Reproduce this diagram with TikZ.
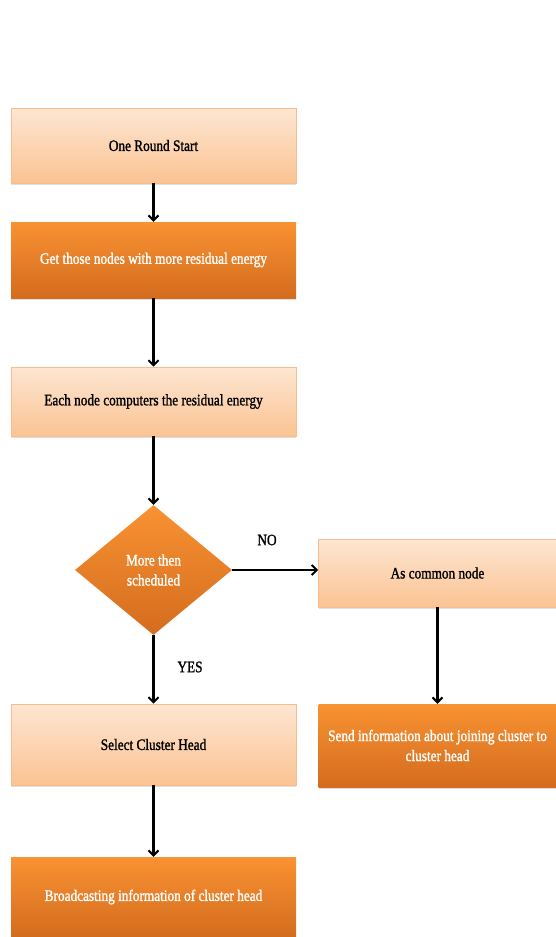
\documentclass[tikz,border=0pt]{standalone}
\usepackage{fontspec}
\setmainfont{Liberation Serif}[FakeStretch=0.83,FakeBold=1.3]
\usetikzlibrary{arrows.meta,shapes.geometric,shadows}
\definecolor{lighttop}{HTML}{FDE6D2}
\definecolor{lightbot}{HTML}{FBC393}
\definecolor{lightedge}{HTML}{F9BC8C}
\definecolor{darktop}{HTML}{F89232}
\definecolor{darkbot}{HTML}{D46C1E}
\tikzset{
  lightbox/.style={rectangle, draw=lightedge, line width=0.8pt, top color=lighttop, bottom color=lightbot,
    minimum width=285pt, inner sep=2pt, align=center, font=\fontsize{16}{20}\selectfont,
    drop shadow={shadow xshift=0pt, shadow yshift=-1.5pt, opacity=0.25}},
  darkbox/.style={rectangle, draw=none, top color=darktop, bottom color=darkbot, text=white,
    minimum width=285pt, inner sep=2pt, align=center, font=\fontsize{16}{20}\selectfont,
    drop shadow={shadow xshift=0pt, shadow yshift=-1.5pt, opacity=0.25}},
  decision/.style={diamond, draw=none, top color=darktop, bottom color=darkbot, text=white,
    minimum width=157pt, minimum height=130pt, aspect=1.21, inner sep=0pt, align=center,
    font=\fontsize{16}{20}\selectfont},
  flow/.style={-{Straight Barb[length=5pt,width=10pt,line width=2pt]}, line width=2.2pt, black},
  lbl/.style={font=\fontsize{16}{20}\selectfont}
}
\begin{document}
\begin{tikzpicture}[x=1pt,y=-1pt]
\useasboundingbox (0,0) rectangle (556,937);
\node[lightbox, minimum height=75pt] (start) at (153.5,145.5) {One Round Start};
\node[darkbox, minimum height=76pt] (get) at (153.5,260) {Get those nodes with more residual energy};
\node[lightbox, minimum height=69pt] (compute) at (153.5,401.5) {Each node computers the residual energy};
\node[decision] (dec) at (153.5,570) {More then\\scheduled};
\node[lightbox, minimum width=238pt, minimum height=68pt] (common) at (437.5,573) {As common node};
\node[darkbox, minimum width=238pt, minimum height=83pt] (send) at (437.5,745.5) {Send information about joining cluster to\\cluster head};
\node[lightbox, minimum height=81pt] (select) at (153.5,744.5) {Select Cluster Head};
\node[darkbox, minimum height=80pt] (broad) at (153.5,897) {Broadcasting information of cluster head};
\node[lbl] (no) at (267,540) {NO};
\node[lbl] (yes) at (190,667) {YES};
\draw[flow] (start.south) -- (get.north);
\draw[flow] (get.south) -- (compute.north);
\draw[flow] (compute.south) -- (dec.north);
\draw[flow] (dec.east) -- (common.west |- dec.east);
\draw[flow] (common.south) -- (send.north);
\draw[flow] (dec.south) -- (select.north);
\draw[flow] (select.south) -- (broad.north);
\end{tikzpicture}
\end{document}
